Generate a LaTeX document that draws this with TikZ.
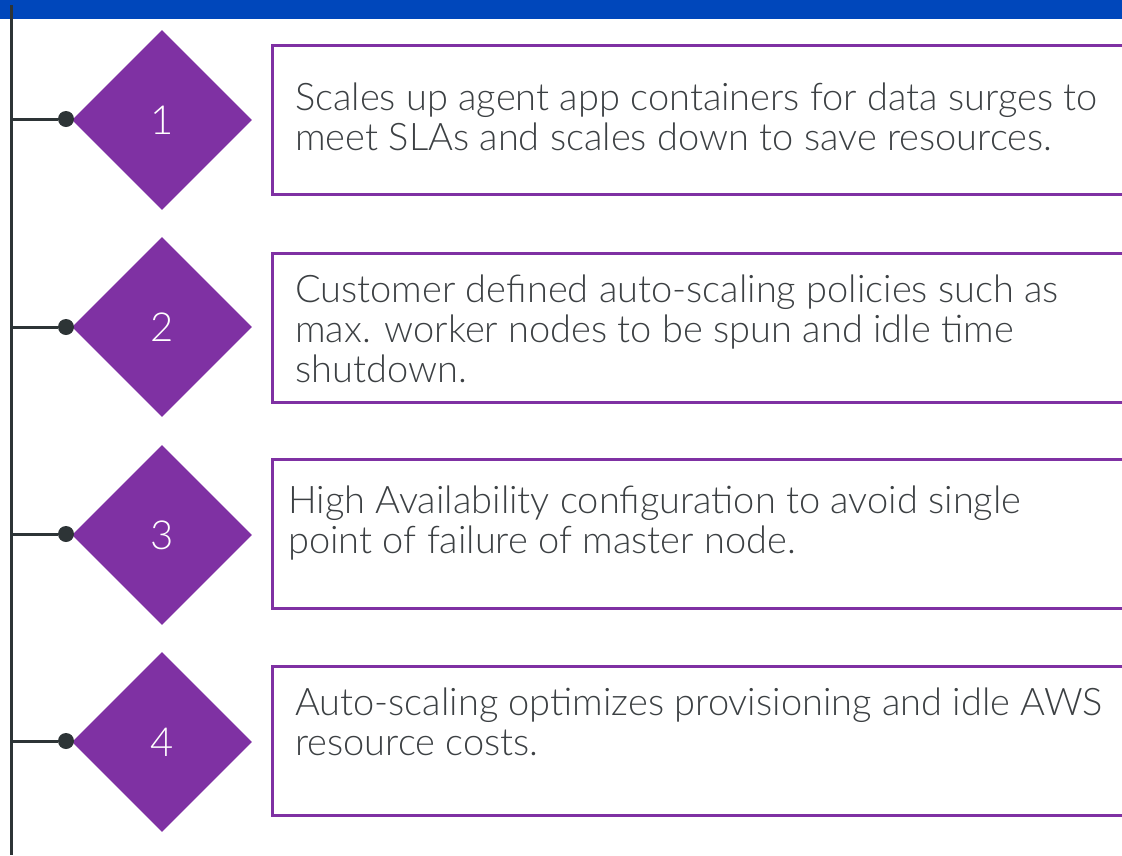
\documentclass[tikz,border=0pt]{standalone}
\usepackage{fontspec}
\setmainfont{Lato}[UprightFont={* Light}]
\usetikzlibrary{shapes.geometric}

\definecolor{barblue}{HTML}{0047BB}
\definecolor{stepviolet}{HTML}{7F31A3}
\definecolor{spinegray}{HTML}{2D3436}
\definecolor{textgray}{HTML}{3C4043}

\begin{document}
\begin{tikzpicture}[x=1pt,y=-1pt,
  stepmark/.style={diamond, fill=stepviolet, minimum width=180pt, minimum height=180pt, inner sep=0pt, text=white, font=\fontsize{40}{40}\selectfont},
  stepdot/.style={circle, fill=spinegray, minimum size=16pt, inner sep=0pt},
  stepbox/.style={draw=stepviolet, line width=2.5pt, rectangle, minimum width=880pt, minimum height=149pt, anchor=north west, inner sep=0pt},
  steptext/.style={anchor=base west, align=left, inner sep=0pt, text=textgray, font=\fontsize{38}{40}\selectfont}]
\clip (0,0) rectangle (1122,855);
\fill[barblue] (0,0) rectangle (1122,19);

% spine
\coordinate (top) at (11,5);
\coordinate (bottom) at (11,855);
\path[draw,spinegray,line width=3pt] (top) -- (bottom);

% step markers
\node[stepmark] (d1) at (162,120) {1};
\node[stepmark] (d2) at (162,327) {2};
\node[stepmark] (d3) at (162,535) {3};
\node[stepmark] (d4) at (162,742) {4};

\node[stepdot] (p1) at (66,119) {};
\node[stepdot] (p2) at (66,327) {};
\node[stepdot] (p3) at (66,534) {};
\node[stepdot] (p4) at (66,741) {};

\coordinate (s1) at (11,119);
\coordinate (s2) at (11,327);
\coordinate (s3) at (11,534);
\coordinate (s4) at (11,741);

\path[draw,spinegray,line width=3pt] (s1) -- (p1);
\path[draw,spinegray,line width=3pt] (s2) -- (p2);
\path[draw,spinegray,line width=3pt] (s3) -- (p3);
\path[draw,spinegray,line width=3pt] (s4) -- (p4);

% boxes
\node[stepbox] (b1) at (271,44) {};
\node[stepbox] (b2) at (271,252) {};
\node[stepbox] (b3) at (271,458) {};
\node[stepbox] (b4) at (271,665) {};

\node[steptext] (t1) at (295,150) {Scales up agent app containers for data surges to\\meet SLAs and scales down to save resources.};
\node[steptext] (t2) at (295,382) {Customer defined auto-scaling policies such as\\max. worker nodes to be spun and idle time\\shutdown.};
\node[steptext] (t3) at (288,553) {High Availability configuration to avoid single\\point of failure of master node.};
\node[steptext] (t4) at (295,755) {Auto-scaling optimizes provisioning and idle AWS\\resource costs.};
\end{tikzpicture}
\end{document}
